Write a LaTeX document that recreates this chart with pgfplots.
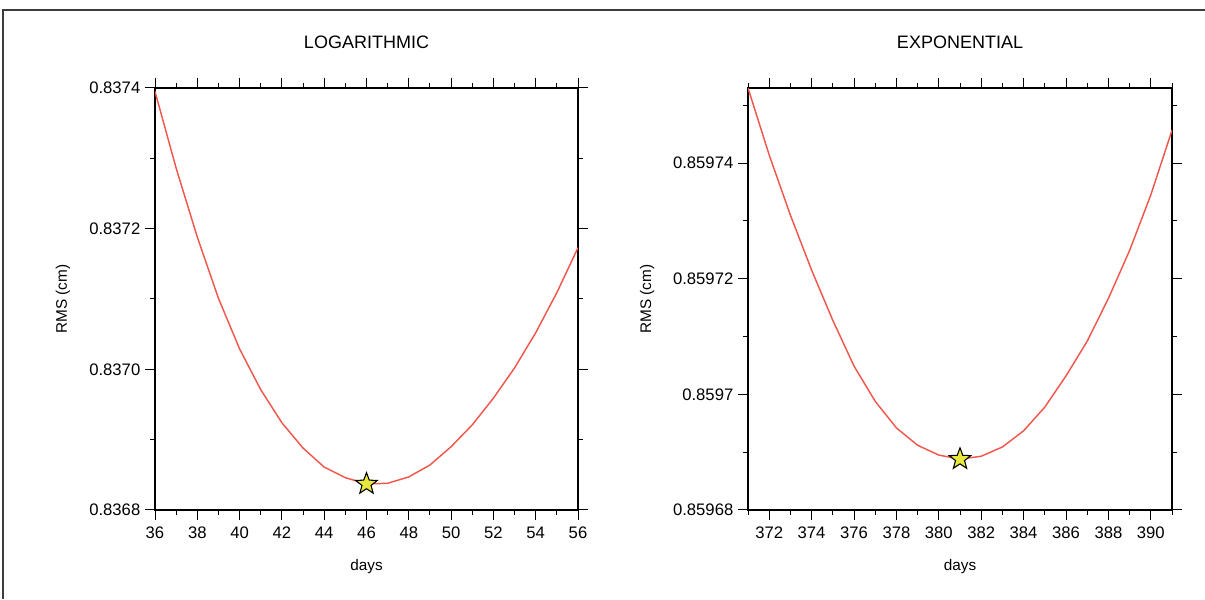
\documentclass[border=0pt]{standalone}
\usepackage{fontspec}
\setmainfont{Liberation Sans}
\usepackage{xfp}
\usepackage{pgfplots}
\pgfplotsset{compat=1.18}

\definecolor{curvecol}{RGB}{240,88,78}
\definecolor{starcol}{RGB}{232,232,60}
\definecolor{framecol}{RGB}{60,60,60}

% filled five-pointed star
\pgfdeclareplotmark{fstar}{%
  \pgfpathmoveto{\pgfpointpolar{90}{\pgfplotmarksize}}%
  \pgfpathlineto{\pgfpointpolar{126}{0.42*\pgfplotmarksize}}%
  \pgfpathlineto{\pgfpointpolar{162}{\pgfplotmarksize}}%
  \pgfpathlineto{\pgfpointpolar{198}{0.42*\pgfplotmarksize}}%
  \pgfpathlineto{\pgfpointpolar{234}{\pgfplotmarksize}}%
  \pgfpathlineto{\pgfpointpolar{270}{0.42*\pgfplotmarksize}}%
  \pgfpathlineto{\pgfpointpolar{306}{\pgfplotmarksize}}%
  \pgfpathlineto{\pgfpointpolar{342}{0.42*\pgfplotmarksize}}%
  \pgfpathlineto{\pgfpointpolar{18}{\pgfplotmarksize}}%
  \pgfpathlineto{\pgfpointpolar{54}{0.42*\pgfplotmarksize}}%
  \pgfpathclose
  \pgfusepathqfillstroke}

% RMS values (cm) per day; offsets removed with \fpeval because the
% pgf fpu cannot resolve differences of 1e-6 on 0.86
\newcommand\buildcoords[4]{%
  \gdef#1{}%
  \foreach \d/\v in {#2} {\xdef#1{#1 (\d,\fpeval{(\v-#3)*#4})}}}

\buildcoords\logcoords{36/0.837395, 37/0.837286, 38/0.837188, 39/0.837101,
  40/0.837029, 41/0.836971, 42/0.836924, 43/0.836888, 44/0.836861,
  45/0.836846, 46/0.836837, 47/0.836838, 48/0.836847, 49/0.836864,
  50/0.836890, 51/0.836921, 52/0.836959, 53/0.837002, 54/0.837052,
  55/0.837109, 56/0.837173}{0.8368}{10000}
\buildcoords\logstar{46/0.836837}{0.8368}{10000}

\buildcoords\expcoords{371/0.8597530, 372/0.8597414, 373/0.8597310,
  374/0.8597215, 375/0.8597128, 376/0.8597049, 377/0.8596988,
  378/0.8596942, 379/0.8596912, 380/0.8596895, 381/0.8596888,
  382/0.8596893, 383/0.8596909, 384/0.8596937, 385/0.8596978,
  386/0.8597032, 387/0.8597092, 388/0.8597166, 389/0.8597249,
  390/0.8597345, 391/0.8597457}{0.85968}{100000}
\buildcoords\expstar{381/0.8596888}{0.85968}{100000}

\pgfplotsset{
  gmt/.style={
    scale only axis,
    height=316.5pt,
    axis line style={line width=1.5pt},
    tick align=outside,
    major tick length=7.5pt,
    minor tick length=3.75pt,
    every tick/.style={black, line width=0.75pt},
    tick label style={font=\fontsize{12.5}{14}\selectfont},
    xticklabel style={yshift=-1.5pt},
    /pgf/number format/assume math mode=true,
    label style={font=\fontsize{11.5}{13}\selectfont},
    title style={font=\fontsize{13.5}{15}\selectfont, anchor=center},
    xlabel={days},
    ylabel={RMS (cm)},
    ymin=0,
    clip=true,
  },
  curve/.style={color=curvecol, line width=1.1pt, mark=none},
  starmark/.style={only marks, mark=fstar, mark size=8.5pt,
    mark options={fill=starcol, draw=black, line width=0.8pt}},
}

\begin{document}
\begin{tikzpicture}
\path[use as bounding box] (0,0) rectangle (903.75pt,449.25pt);
\draw[framecol, line width=1.1pt] (2.25pt,0) -- (2.25pt,441.75pt) -- (903.75pt,441.75pt);

\begin{axis}[gmt,
    at={(116.25pt,66.75pt)}, anchor=south west,
    width=317.25pt,
    title={LOGARITHMIC},
    title style={at={(axis description cs:0.5,1.09)}},
    xlabel style={at={(axis description cs:0.5,-0.133)}, anchor=center},
    ylabel style={at={(axis description cs:-0.218,0.5)}, anchor=center},
    xmin=36, xmax=56,
    xtick={36,38,...,56},
    minor xtick={37,39,...,55},
    ymax=6,
    ytick={0,2,4,6},
    yticklabels={0.8368,0.8370,0.8372,0.8374},
    minor ytick={1,3,5},
]
\edef\tmp{\noexpand\addplot[curve] coordinates {\logcoords};}\tmp
\edef\tmp{\noexpand\addplot[starmark] coordinates {\logstar};}\tmp
\end{axis}

\begin{axis}[gmt,
    at={(561pt,66.75pt)}, anchor=south west,
    width=318pt,
    title={EXPONENTIAL},
    title style={at={(axis description cs:0.5,1.09)}},
    xlabel style={at={(axis description cs:0.5,-0.133)}, anchor=center},
    ylabel style={at={(axis description cs:-0.238,0.5)}, anchor=center},
    xmin=371, xmax=391,
    xtick={372,374,...,390},
    minor xtick={371,373,...,391},
    ymax=7.3,
    ytick={0,2,4,6},
    yticklabels={0.85968,0.8597,0.85972,0.85974},
    minor ytick={1,3,5,7},
]
\edef\tmp{\noexpand\addplot[curve] coordinates {\expcoords};}\tmp
\edef\tmp{\noexpand\addplot[starmark] coordinates {\expstar};}\tmp
\end{axis}
\end{tikzpicture}
\end{document}
